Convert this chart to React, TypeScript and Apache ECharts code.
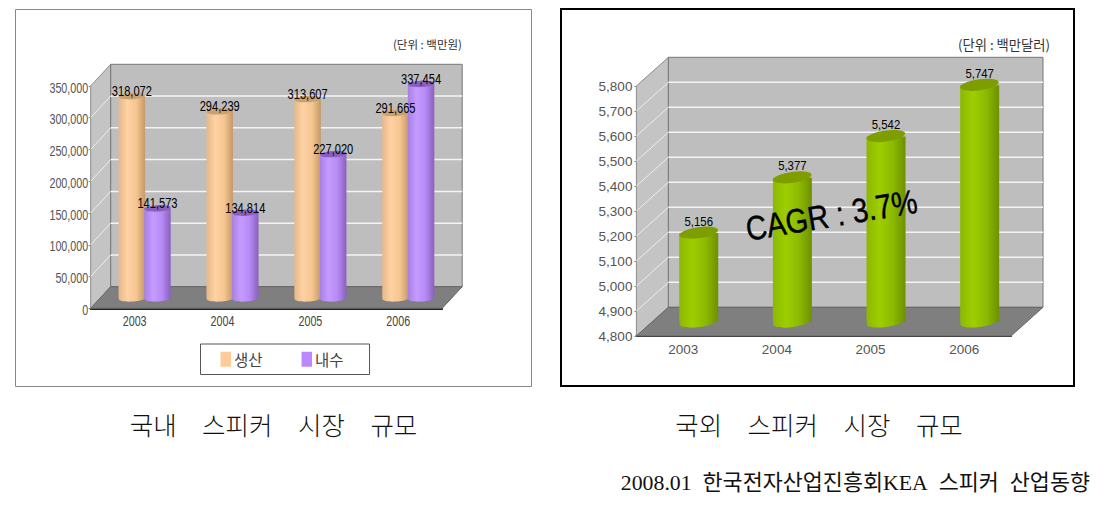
import React, { useEffect, useRef } from "react";
import * as echarts from "echarts";

const categories = ["2003", "2004", "2005", "2006"];
const production = [318072, 294239, 313607, 291665];
const domestic = [141573, 134814, 227020, 337454];
const overseas = [5156, 5377, 5542, 5747];
const domesticTicks = [0, 50000, 100000, 150000, 200000, 250000, 300000, 350000];
const overseasTicks = [4800, 4900, 5000, 5100, 5200, 5300, 5400, 5500, 5600, 5700, 5800];
const fmt = (v: number) => v.toLocaleString("en-US");

const SANS = '"Liberation Sans", Arial, sans-serif';
const KR = '"Noto Sans CJK KR", sans-serif';
const SERIF = '"Liberation Serif", "Noto Sans CJK KR", serif';

const grad = (stops: string[]) => ({
  type: "linear", x: 0, y: 0, x2: 1, y2: 0,
  colorStops: stops.map((c, i) => ({ offset: i / (stops.length - 1), color: c })),
});

function frameSeries(gridIndex: number, ticks: number[], dx: number, dy: number, lineW: number, narrowLabels: boolean) {
  return {
    type: "custom", xAxisIndex: gridIndex, yAxisIndex: gridIndex, silent: true, z: 1,
    name: "frame" + gridIndex, data: [[0, ticks[0]]], clip: false,
    renderItem: (params: any, api: any) => {
      const cs = params.coordSys;
      const L = cs.x, R = cs.x + cs.width, T = cs.y, B = cs.y + cs.height;
      const kids: any[] = [
        { type: "polygon", shape: { points: [[L, T], [L + dx, T + dy], [L + dx, B + dy], [L, B]] }, style: { fill: "#C4C4C4", stroke: "#8c8c8c", lineWidth: 1 } },
        { type: "rect", shape: { x: L + dx, y: T + dy, width: cs.width, height: cs.height }, style: { fill: "#BEBEBE", stroke: "#777777", lineWidth: 1 } },
        { type: "polygon", shape: { points: [[L, B], [L + dx, B + dy], [R + dx, B + dy], [R, B]] }, style: { fill: "#7F7F7F", stroke: "#666666", lineWidth: 1 } },
      ];
      ticks.slice(1, -1).forEach((t) => {
        const y = api.coord([0, t])[1];
        kids.push({ type: "line", shape: { x1: L, y1: y, x2: L + dx, y2: y + dy }, style: { stroke: "#EDEDED", lineWidth: 1 } });
        kids.push({ type: "line", shape: { x1: L + dx, y1: y + dy, x2: R + dx, y2: y + dy }, style: { stroke: "#F4F4F4", lineWidth: lineW } });
      });
      if (narrowLabels) {
        ticks.forEach((t) => {
          const y = api.coord([0, t])[1];
          kids.push({
            type: "text", x: L - 2.5, y: y + 1.5, scaleX: 0.74, z2: 40,
            style: { x: 0, y: 0, text: fmt(t), fill: "#555", font: `14.5px ${SANS}`, align: "right", verticalAlign: "middle" },
          });
        });
        categories.forEach((c, i) => {
          const x = api.coord([i, ticks[0]])[0];
          kids.push({
            type: "text", x, y: B + 13, scaleX: 0.74, z2: 40,
            style: { x: 0, y: 0, text: c, fill: "#444", font: `14.5px ${SANS}`, align: "center", verticalAlign: "middle" },
          });
        });
      }
      return { type: "group", children: kids };
    },
  };
}

function barSeries(opts: {
  name: string; values: number[]; gridIndex: number; dx: number; dy: number; offset: number;
  width: number; ry: number; tilt: number; stops: string[]; top: string; legend: string;
  fontSize: number; labelGap: number; labelScale: number;
}) {
  const { name, values, gridIndex, dx, dy, offset, width, ry, tilt, stops, top, legend, fontSize, labelGap, labelScale } = opts;
  return {
    type: "custom", name, xAxisIndex: gridIndex, yAxisIndex: gridIndex, z: 2, clip: false,
    itemStyle: { color: legend },
    encode: { x: 0, y: 1 },
    data: values.map((v, i) => [i, v]),
    renderItem: (_p: any, api: any) => {
      const v = api.value(1);
      const [x0, yTop0] = api.coord([api.value(0), v]);
      const yBase0 = api.coord([api.value(0), gridIndex === 0 ? 0 : 4800])[1];
      const cx = x0 + dx + offset, yTop = yTop0 + dy, yBase = yBase0 + dy;
      const rx = width / 2;
      const fill = grad(stops);
      return {
        type: "group",
        children: [
          { type: "ellipse", shape: { cx, cy: yBase, rx, ry }, originX: cx, originY: yBase, rotation: tilt, style: { fill } },
          { type: "rect", shape: { x: cx - rx, y: yTop, width, height: yBase - yTop }, style: { fill } },
          { type: "ellipse", shape: { cx, cy: yTop, rx, ry }, originX: cx, originY: yTop, rotation: tilt, style: { fill: top } },
          {
            type: "text", z2: 50, x: cx, y: yTop - labelGap, scaleX: labelScale,
            style: {
              x: 0, y: 0, text: fmt(v), fill: "#000", font: `${fontSize}px ${SANS}`,
              align: "center", verticalAlign: "middle",
            },
          },
        ],
      };
    },
  };
}

function unitText(x: number, y: number, text: string, size: number) {
  return { type: "text", x, y, z: 20, style: { text, fill: "#333", font: `${size}px ${KR}`, align: "right", verticalAlign: "middle" } };
}

export default function App() {
  const ref = useRef<HTMLDivElement>(null);
  useEffect(() => {
    const chart = echarts.init(ref.current!, undefined, { renderer: "svg" });
    chart.setOption({
      animation: false,
      backgroundColor: "#fff",
      grid: [
        { left: 90.7, top: 85.9, width: 351.5, height: 222.4, containLabel: false },
        { left: 636.4, top: 86, width: 374.6, height: 250, containLabel: false },
      ],
      xAxis: [0, 1].map((g) => ({
        type: "category", gridIndex: g, data: categories,
        axisLine: { lineStyle: { color: "#222", width: 2 } },
        axisTick: { inside: true, length: 4, lineStyle: { color: "#333" } },
        axisLabel: { show: g === 1, color: "#555", margin: 6, fontFamily: SANS, fontSize: 13.5 },
      })),
      yAxis: [domesticTicks, overseasTicks].map((t, g) => ({
        type: "value", gridIndex: g, min: t[0], max: t[t.length - 1],
        interval: t[1] - t[0],
        axisLine: { show: false }, splitLine: { show: false },
        axisTick: { show: true, length: 2, lineStyle: { color: "#888" } },
        axisLabel: { show: g === 1, color: "#555", margin: 4, fontFamily: SANS, fontSize: 13.5, formatter: (v: number) => fmt(v) },
      })),
      legend: {
        data: ["생산", "내수"], left: 200.5, top: 344, orient: "horizontal",
        padding: [7.5, 26, 7.5, 20], itemWidth: 10.5, itemHeight: 15, itemGap: 39, icon: "rect",
        borderColor: "#555", borderWidth: 1, selectedMode: false,
        textStyle: { fontFamily: KR, fontSize: 15.5, color: "#444", padding: [0, 0, 0, -2] },
      },
      series: [
        frameSeries(0, domesticTicks, 20, -21.6, 1.5, true),
        frameSeries(1, overseasTicks, 32, -28.7, 1.5, false),
        barSeries({ name: "생산", values: production, gridIndex: 0, dx: 10, dy: -10, offset: -12.8, width: 26.5, ry: 3.2, tilt: 0.05, stops: ["#E6B888", "#FFD2A4", "#F6C690", "#C49868"], top: "#C8A272", legend: "#FFCC99", fontSize: 15, labelGap: 5, labelScale: 0.74 }),
        barSeries({ name: "내수", values: domestic, gridIndex: 0, dx: 10, dy: -10, offset: 12.8, width: 26.5, ry: 3.2, tilt: 0.05, stops: ["#A880E4", "#C49CFF", "#B68AF4", "#8A60BE"], top: "#8A5EBC", legend: "#BB88FF", fontSize: 15, labelGap: 5, labelScale: 0.74 }),
        barSeries({ name: "해외", values: overseas, gridIndex: 1, dx: 15.5, dy: -14, offset: 0, width: 39, ry: 5.5, tilt: 0.14, stops: ["#8CB800", "#9ECE00", "#8CBA00", "#6E9000"], top: "#7E9E00", legend: "#8CB800", fontSize: 12, labelGap: 12, labelScale: 0.95 }),
      ],
      graphic: [
        { type: "rect", z: -1, shape: { x: 15.5, y: 9.5, width: 516, height: 377 }, style: { fill: "none", stroke: "#888", lineWidth: 1 } },
        { type: "rect", z: -1, shape: { x: 561, y: 9, width: 513, height: 377 }, style: { fill: "none", stroke: "#000", lineWidth: 2 } },
        unitText(462, 44, "(단위 : 백만원)", 11.5),
        unitText(1050, 44, "(단위 : 백만달러)", 13.3),
        { type: "text", x: 831.5, y: 215, rotation: 0.165, scaleX: 0.85, z: 30, style: { x: 0, y: 0, text: "CAGR : 3.7%", fill: "#000", stroke: "#000", lineWidth: 0.4, font: `34px ${SANS}`, align: "center", verticalAlign: "middle" } },
        { type: "text", x: 273.5, y: 423, z: 20, style: { text: "국내\u3000스피커\u3000시장\u3000규모", fill: "#111", font: `300 25.5px ${KR}`, align: "center", verticalAlign: "middle" } },
        { type: "text", x: 819, y: 423, z: 20, style: { text: "국외\u3000스피커\u3000시장\u3000규모", fill: "#111", font: `300 25.5px ${KR}`, align: "center", verticalAlign: "middle" } },
        { type: "text", x: 1090, y: 483, z: 20, style: { text: "2008.01\u2002한국전자산업진흥회KEA\u2002스피커\u2002산업동향", fill: "#111", font: `21.8px ${SERIF}`, align: "right", verticalAlign: "middle" } },
      ],
    });
    return () => chart.dispose();
  }, []);
  return <div ref={ref} style={{ position: "absolute", left: 0, top: 0, width: 1110, height: 507 }} />;
}
